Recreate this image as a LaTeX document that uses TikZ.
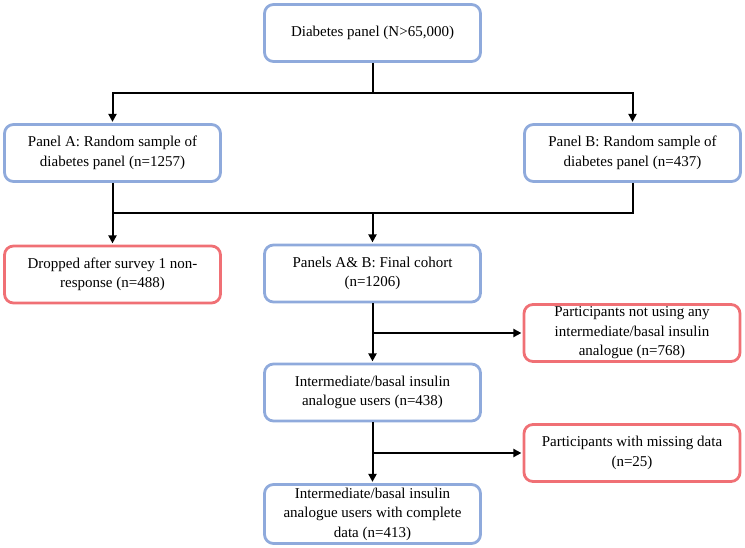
\documentclass[tikz,border=0pt]{standalone}
\usepackage{fontspec}
\setmainfont{Liberation Serif}
\usetikzlibrary{arrows.meta}
\definecolor{boxblue}{RGB}{143,170,220}
\definecolor{boxred}{RGB}{240,112,117}
\begin{document}
\begin{tikzpicture}[x=1pt,y=-1pt,
  box/.style={rounded corners=9pt, line width=2.8pt, fill=white,
    minimum width=216pt, minimum height=57pt, align=center, inner sep=2pt,
    font=\fontsize{15}{19.5}\selectfont},
  bluebox/.style={box, draw=boxblue},
  redbox/.style={box, draw=boxred},
  ln/.style={line width=2pt, draw=black},
  arr/.style={ln, -{Triangle[length=8pt,width=8pt]}, shorten >=1.2pt}]
\useasboundingbox (0,0) rectangle (745,548);

\node[bluebox] (top) at (372.5,33) {Diabetes panel (N>65,000)};
\node[bluebox] (A) at (112.5,153) {Panel A: Random sample of\\diabetes panel (n=1257)};
\node[bluebox] (B) at (632.5,153) {Panel B: Random sample of\\diabetes panel (n=437)};
\node[redbox] (drop) at (112.5,274.5) {Dropped after survey 1 non-\\response (n=488)};
\node[bluebox] (final) at (372.5,273.5) {Panels A\& B: Final cohort\\(n=1206)};
\node[redbox] (notuse) at (632,333) {Participants not using any\\intermediate/basal insulin\\analogue (n=768)};
\node[bluebox] (inter) at (372.5,392.5) {Intermediate/basal insulin\\analogue users (n=438)};
\node[redbox] (miss) at (632,453) {Participants with missing data\\(n=25)};
\node[bluebox, minimum height=59pt] (bot) at (372.5,514) {Intermediate/basal insulin\\analogue users with complete\\data (n=413)};

\coordinate (j1) at (372.5,93);
\coordinate (j2) at (372.5,213);

\draw[ln] (top.south) -- (j1);
\draw[arr] (j1) -| (A.north);
\draw[arr] (j1) -| (B.north);

\draw[arr] (A.south) -- (drop.north);
\draw[ln] (B.south) |- (A.south |- j2);
\draw[arr] (j2) -- (final.north);

\draw[arr] (final.south) -- (inter.north);
\draw[arr] (final.south |- notuse.west) -- (notuse.west);

\draw[arr] (inter.south) -- (bot.north);
\draw[arr] (inter.south |- miss.west) -- (miss.west);
\end{tikzpicture}
\end{document}
